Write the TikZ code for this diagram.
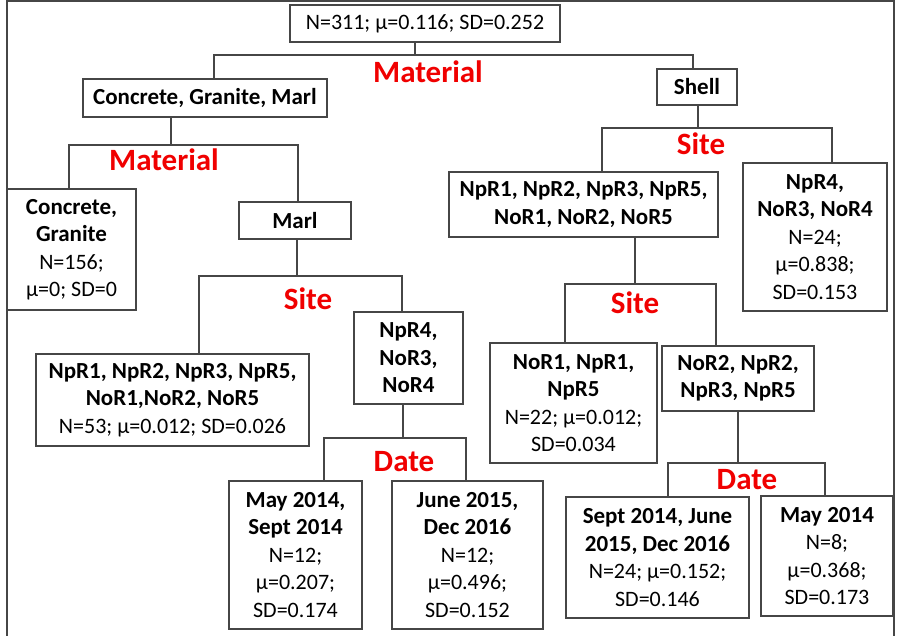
\documentclass[tikz,border=0pt]{standalone}
\usepackage{fontspec}
\setmainfont{Carlito}
\definecolor{linec}{RGB}{70,70,70}
\definecolor{labred}{RGB}{240,0,0}
\newcommand{\bb}[1]{{\fontsize{23}{27.5}\selectfont\bfseries #1}}
\tikzset{
  box/.style={draw=linec, line width=1.2pt, inner sep=0pt, align=center,
    font=\fontsize{22}{27.5}\selectfont},
  conn/.style={draw=linec, line width=1.2pt},
  splitlab/.style={text=labred, font=\fontsize{31}{34}\selectfont\bfseries, inner sep=0pt}
}
\begin{document}
\begin{tikzpicture}[x=1pt,y=-1pt]
\useasboundingbox (0,0) rectangle (902,636);
\draw[linec, line width=1.5pt] (7,636) -- (7,1) -- (894,1) -- (894,636);

% boxes
\node[box, minimum width=270, minimum height=37] (root) at (425,23.5) {N=311; μ=0.116; SD=0.252};
\node[box, minimum width=244, minimum height=38] (cgm) at (205,98) {\bb{Concrete, Granite, Marl}};
\node[box, minimum width=80, minimum height=36] (shell) at (697,87) {\bb{Shell}};
\node[box, minimum width=129, minimum height=121] (cg) at (71.5,249.5) {\bb{Concrete,}\\\bb{Granite}\\N=156;\\μ=0; SD=0};
\node[box, minimum width=112, minimum height=37] (marl) at (295,220.5) {\bb{Marl}};
\node[box, minimum width=273, minimum height=92] (lnp) at (172.5,400) {\bb{NpR1, NpR2, NpR3, NpR5,}\\\bb{NoR1,NoR2, NoR5}\\N=53; μ=0.012; SD=0.026};
\node[box, minimum width=109, minimum height=92] (lnr) at (408.5,358) {\bb{NpR4,}\\\bb{NoR3,}\\\bb{NoR4}};
\node[box, minimum width=133, minimum height=148] (mayA) at (295.5,555) {\bb{May 2014,}\\\bb{Sept 2014}\\N=12;\\μ=0.207;\\SD=0.174};
\node[box, minimum width=151, minimum height=148] (june) at (467.5,555) {\bb{June 2015,}\\\bb{Dec 2016}\\N=12;\\μ=0.496;\\SD=0.152};
\node[box, minimum width=269, minimum height=65] (rnp) at (583.5,204.5) {\bb{NpR1, NpR2, NpR3, NpR5,}\\\bb{NoR1, NoR2, NoR5}};
\node[box, minimum width=144, minimum height=148] (rnr) at (815,237) {\bb{NpR4,}\\\bb{NoR3, NoR4}\\N=24;\\μ=0.838;\\SD=0.153};
\node[box, minimum width=167, minimum height=120] (nora) at (573.5,403) {\bb{NoR1, NpR1,}\\\bb{NpR5}\\N=22; μ=0.012;\\SD=0.034};
\node[box, minimum width=152, minimum height=65] (norb) at (738,378.5) {\bb{NoR2, NpR2,}\\\bb{NpR3, NpR5}};
\node[box, minimum width=183, minimum height=121] (sept) at (657.5,557.5) {\bb{Sept 2014, June}\\\bb{2015, Dec 2016}\\N=24; μ=0.152;\\SD=0.146};
\node[box, minimum width=132, minimum height=120] (mayB) at (827,556) {\bb{May 2014}\\N=8;\\μ=0.368;\\SD=0.173};

% split labels
\node[splitlab] (l1) at (428,72) {Material};
\node[splitlab] (l2) at (164,160) {Material};
\node[splitlab] (l3) at (701,144) {Site};
\node[splitlab] (l4) at (308,299) {Site};
\node[splitlab] (l5) at (635,303) {Site};
\node[splitlab] (l6) at (404,462) {Date};
\node[splitlab] (l7) at (747,480) {Date};

% connector junctions
\coordinate (j1) at (415,55);   \coordinate (j1l) at (214,55);  \coordinate (j1r) at (693,55);
\coordinate (j2) at (171,145);  \coordinate (j2l) at (69,145);  \coordinate (j2r) at (298,145);
\coordinate (j3) at (297,276);  \coordinate (j3l) at (199,276); \coordinate (j3r) at (402,276);
\coordinate (j4) at (403,438);  \coordinate (j4l) at (324,438); \coordinate (j4r) at (466,438);
\coordinate (j5) at (698,128);  \coordinate (j5l) at (602,128); \coordinate (j5r) at (832,128);
\coordinate (j6) at (635,284);  \coordinate (j6l) at (565,284); \coordinate (j6r) at (716,284);
\coordinate (j7) at (738,463);  \coordinate (j7l) at (668,463); \coordinate (j7r) at (825,463);

% connectors
\draw[conn] (root.south -| j1) -- (j1);
\draw[conn] (cgm.north -| j1l) |- (j1r) -- (shell.north -| j1r);
\draw[conn] (cgm.south -| j2) -- (j2);
\draw[conn] (cg.north -| j2l) |- (j2r) -- (marl.north -| j2r);
\draw[conn] (marl.south -| j3) -- (j3);
\draw[conn] (lnp.north -| j3l) |- (j3r) -- (lnr.north -| j3r);
\draw[conn] (lnr.south -| j4) -- (j4);
\draw[conn] (mayA.north -| j4l) |- (j4r) -- (june.north -| j4r);
\draw[conn] (shell.south -| j5) -- (j5);
\draw[conn] (rnp.north -| j5l) |- (j5r) -- (rnr.north -| j5r);
\draw[conn] (rnp.south -| j6) -- (j6);
\draw[conn] (nora.north -| j6l) |- (j6r) -- (norb.north -| j6r);
\draw[conn] (norb.south -| j7) -- (j7);
\draw[conn] (sept.north -| j7l) |- (j7r) -- (mayB.north -| j7r);
\end{tikzpicture}
\end{document}
